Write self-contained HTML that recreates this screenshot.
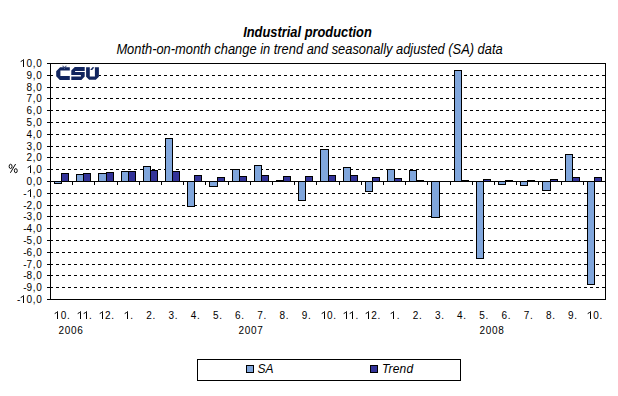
<!DOCTYPE html>
<html><head><meta charset="utf-8"><style>
html,body{margin:0;padding:0;background:#fff;}
body{width:618px;height:396px;overflow:hidden;}
svg{display:block;}
text{font-family:"Liberation Sans",sans-serif;}
</style></head><body>
<svg width="618" height="396" viewBox="0 0 618 396">
<rect x="0" y="0" width="618" height="396" fill="#fff"/>
<text transform="translate(307.5,37) scale(0.92,1)" x="0" y="0" text-anchor="middle" font-size="14" font-weight="bold" font-style="italic">Industrial production</text>
<text transform="translate(309.5,54) scale(0.92,1)" x="0" y="0" text-anchor="middle" font-size="14" font-style="italic">Month-on-month change in trend and seasonally adjusted (SA) data</text>
<g shape-rendering="crispEdges" stroke-width="1">
<line x1="50" y1="287.5" x2="605" y2="287.5" stroke="#000" stroke-dasharray="3 3"/>
<line x1="50" y1="275.5" x2="605" y2="275.5" stroke="#000" stroke-dasharray="3 3"/>
<line x1="50" y1="264.5" x2="605" y2="264.5" stroke="#000" stroke-dasharray="3 3"/>
<line x1="50" y1="252.5" x2="605" y2="252.5" stroke="#000" stroke-dasharray="3 3"/>
<line x1="50" y1="240.5" x2="605" y2="240.5" stroke="#000" stroke-dasharray="3 3"/>
<line x1="50" y1="228.5" x2="605" y2="228.5" stroke="#000" stroke-dasharray="3 3"/>
<line x1="50" y1="216.5" x2="605" y2="216.5" stroke="#000" stroke-dasharray="3 3"/>
<line x1="50" y1="205.5" x2="605" y2="205.5" stroke="#000" stroke-dasharray="3 3"/>
<line x1="50" y1="193.5" x2="605" y2="193.5" stroke="#000" stroke-dasharray="3 3"/>
<line x1="50" y1="169.5" x2="605" y2="169.5" stroke="#000" stroke-dasharray="3 3"/>
<line x1="50" y1="157.5" x2="605" y2="157.5" stroke="#000" stroke-dasharray="3 3"/>
<line x1="50" y1="146.5" x2="605" y2="146.5" stroke="#000" stroke-dasharray="3 3"/>
<line x1="50" y1="134.5" x2="605" y2="134.5" stroke="#000" stroke-dasharray="3 3"/>
<line x1="50" y1="122.5" x2="605" y2="122.5" stroke="#000" stroke-dasharray="3 3"/>
<line x1="50" y1="110.5" x2="605" y2="110.5" stroke="#000" stroke-dasharray="3 3"/>
<line x1="50" y1="98.5" x2="605" y2="98.5" stroke="#000" stroke-dasharray="3 3"/>
<line x1="50" y1="87.5" x2="605" y2="87.5" stroke="#000" stroke-dasharray="3 3"/>
<line x1="50" y1="75.5" x2="605" y2="75.5" stroke="#000" stroke-dasharray="3 3"/>
<rect x="54.5" y="181.5" width="7" height="2" fill="#80a6dc" stroke="#000"/>
<rect x="61.5" y="173.5" width="7" height="8" fill="#333399" stroke="#000"/>
<rect x="76.5" y="174.5" width="7" height="7" fill="#80a6dc" stroke="#000"/>
<rect x="83.5" y="173.5" width="7" height="8" fill="#333399" stroke="#000"/>
<rect x="98.5" y="173.5" width="8" height="8" fill="#80a6dc" stroke="#000"/>
<rect x="106.5" y="172.5" width="7" height="9" fill="#333399" stroke="#000"/>
<rect x="121.5" y="171.5" width="7" height="10" fill="#80a6dc" stroke="#000"/>
<rect x="128.5" y="171.5" width="7" height="10" fill="#333399" stroke="#000"/>
<rect x="143.5" y="166.5" width="7" height="15" fill="#80a6dc" stroke="#000"/>
<rect x="150.5" y="170.5" width="7" height="11" fill="#333399" stroke="#000"/>
<rect x="165.5" y="138.5" width="7" height="43" fill="#80a6dc" stroke="#000"/>
<rect x="172.5" y="171.5" width="7" height="10" fill="#333399" stroke="#000"/>
<rect x="187.5" y="181.5" width="7" height="25" fill="#80a6dc" stroke="#000"/>
<rect x="194.5" y="175.5" width="7" height="6" fill="#333399" stroke="#000"/>
<rect x="209.5" y="181.5" width="8" height="5" fill="#80a6dc" stroke="#000"/>
<rect x="217.5" y="177.5" width="7" height="4" fill="#333399" stroke="#000"/>
<rect x="232.5" y="169.5" width="7" height="12" fill="#80a6dc" stroke="#000"/>
<rect x="239.5" y="176.5" width="7" height="5" fill="#333399" stroke="#000"/>
<rect x="254.5" y="165.5" width="7" height="16" fill="#80a6dc" stroke="#000"/>
<rect x="261.5" y="175.5" width="7" height="6" fill="#333399" stroke="#000"/>
<rect x="276.5" y="180.5" width="7" height="1" fill="#80a6dc" stroke="#000"/>
<rect x="283.5" y="176.5" width="7" height="5" fill="#333399" stroke="#000"/>
<rect x="298.5" y="181.5" width="7" height="19" fill="#80a6dc" stroke="#000"/>
<rect x="305.5" y="176.5" width="7" height="5" fill="#333399" stroke="#000"/>
<rect x="320.5" y="149.5" width="8" height="32" fill="#80a6dc" stroke="#000"/>
<rect x="328.5" y="175.5" width="7" height="6" fill="#333399" stroke="#000"/>
<rect x="343.5" y="167.5" width="7" height="14" fill="#80a6dc" stroke="#000"/>
<rect x="350.5" y="175.5" width="7" height="6" fill="#333399" stroke="#000"/>
<rect x="365.5" y="181.5" width="7" height="10" fill="#80a6dc" stroke="#000"/>
<rect x="372.5" y="177.5" width="7" height="4" fill="#333399" stroke="#000"/>
<rect x="387.5" y="169.5" width="7" height="12" fill="#80a6dc" stroke="#000"/>
<rect x="394.5" y="178.5" width="7" height="3" fill="#333399" stroke="#000"/>
<rect x="409.5" y="170.5" width="7" height="11" fill="#80a6dc" stroke="#000"/>
<rect x="416.5" y="180.5" width="7" height="1" fill="#333399" stroke="#000"/>
<rect x="431.5" y="181.5" width="8" height="36" fill="#80a6dc" stroke="#000"/>
<rect x="454.5" y="70.5" width="7" height="111" fill="#80a6dc" stroke="#000"/>
<rect x="461.5" y="180.5" width="7" height="1" fill="#333399" stroke="#000"/>
<rect x="476.5" y="181.5" width="7" height="77" fill="#80a6dc" stroke="#000"/>
<rect x="483.5" y="179.5" width="7" height="2" fill="#333399" stroke="#000"/>
<rect x="498.5" y="181.5" width="7" height="3" fill="#80a6dc" stroke="#000"/>
<rect x="505.5" y="180.5" width="7" height="1" fill="#333399" stroke="#000"/>
<rect x="520.5" y="181.5" width="7" height="4" fill="#80a6dc" stroke="#000"/>
<rect x="527.5" y="180.5" width="7" height="1" fill="#333399" stroke="#000"/>
<rect x="542.5" y="181.5" width="8" height="9" fill="#80a6dc" stroke="#000"/>
<rect x="550.5" y="179.5" width="7" height="2" fill="#333399" stroke="#000"/>
<rect x="565.5" y="154.5" width="7" height="27" fill="#80a6dc" stroke="#000"/>
<rect x="572.5" y="177.5" width="7" height="4" fill="#333399" stroke="#000"/>
<rect x="587.5" y="181.5" width="7" height="103" fill="#80a6dc" stroke="#000"/>
<rect x="594.5" y="177.5" width="7" height="4" fill="#333399" stroke="#000"/>
<line x1="47" y1="63.5" x2="606" y2="63.5" stroke="#000"/>
<line x1="47" y1="299.5" x2="606" y2="299.5" stroke="#000"/>
<line x1="50.5" y1="63" x2="50.5" y2="300" stroke="#000"/>
<line x1="605.5" y1="63" x2="605.5" y2="300" stroke="#000"/>
<line x1="50" y1="181.5" x2="606" y2="181.5" stroke="#000"/>
<line x1="47" y1="299.5" x2="50" y2="299.5" stroke="#000"/>
<line x1="47" y1="287.5" x2="50" y2="287.5" stroke="#000"/>
<line x1="47" y1="275.5" x2="50" y2="275.5" stroke="#000"/>
<line x1="47" y1="264.5" x2="50" y2="264.5" stroke="#000"/>
<line x1="47" y1="252.5" x2="50" y2="252.5" stroke="#000"/>
<line x1="47" y1="240.5" x2="50" y2="240.5" stroke="#000"/>
<line x1="47" y1="228.5" x2="50" y2="228.5" stroke="#000"/>
<line x1="47" y1="216.5" x2="50" y2="216.5" stroke="#000"/>
<line x1="47" y1="205.5" x2="50" y2="205.5" stroke="#000"/>
<line x1="47" y1="193.5" x2="50" y2="193.5" stroke="#000"/>
<line x1="47" y1="181.5" x2="50" y2="181.5" stroke="#000"/>
<line x1="47" y1="169.5" x2="50" y2="169.5" stroke="#000"/>
<line x1="47" y1="157.5" x2="50" y2="157.5" stroke="#000"/>
<line x1="47" y1="146.5" x2="50" y2="146.5" stroke="#000"/>
<line x1="47" y1="134.5" x2="50" y2="134.5" stroke="#000"/>
<line x1="47" y1="122.5" x2="50" y2="122.5" stroke="#000"/>
<line x1="47" y1="110.5" x2="50" y2="110.5" stroke="#000"/>
<line x1="47" y1="98.5" x2="50" y2="98.5" stroke="#000"/>
<line x1="47" y1="87.5" x2="50" y2="87.5" stroke="#000"/>
<line x1="47" y1="75.5" x2="50" y2="75.5" stroke="#000"/>
<line x1="47" y1="63.5" x2="50" y2="63.5" stroke="#000"/>
<line x1="72.5" y1="181" x2="72.5" y2="185" stroke="#000"/>
<line x1="94.5" y1="181" x2="94.5" y2="185" stroke="#000"/>
<line x1="117.5" y1="181" x2="117.5" y2="185" stroke="#000"/>
<line x1="139.5" y1="181" x2="139.5" y2="185" stroke="#000"/>
<line x1="161.5" y1="181" x2="161.5" y2="185" stroke="#000"/>
<line x1="183.5" y1="181" x2="183.5" y2="185" stroke="#000"/>
<line x1="205.5" y1="181" x2="205.5" y2="185" stroke="#000"/>
<line x1="228.5" y1="181" x2="228.5" y2="185" stroke="#000"/>
<line x1="250.5" y1="181" x2="250.5" y2="185" stroke="#000"/>
<line x1="272.5" y1="181" x2="272.5" y2="185" stroke="#000"/>
<line x1="294.5" y1="181" x2="294.5" y2="185" stroke="#000"/>
<line x1="316.5" y1="181" x2="316.5" y2="185" stroke="#000"/>
<line x1="339.5" y1="181" x2="339.5" y2="185" stroke="#000"/>
<line x1="361.5" y1="181" x2="361.5" y2="185" stroke="#000"/>
<line x1="383.5" y1="181" x2="383.5" y2="185" stroke="#000"/>
<line x1="405.5" y1="181" x2="405.5" y2="185" stroke="#000"/>
<line x1="427.5" y1="181" x2="427.5" y2="185" stroke="#000"/>
<line x1="450.5" y1="181" x2="450.5" y2="185" stroke="#000"/>
<line x1="472.5" y1="181" x2="472.5" y2="185" stroke="#000"/>
<line x1="494.5" y1="181" x2="494.5" y2="185" stroke="#000"/>
<line x1="516.5" y1="181" x2="516.5" y2="185" stroke="#000"/>
<line x1="538.5" y1="181" x2="538.5" y2="185" stroke="#000"/>
<line x1="561.5" y1="181" x2="561.5" y2="185" stroke="#000"/>
<line x1="583.5" y1="181" x2="583.5" y2="185" stroke="#000"/>
</g>
<rect x="53" y="64" width="46" height="22" fill="#fff"/>
<g fill="#11255f">
<path d="M56.2,71.2 L60.1,67.3 L69.8,67.3 L69.8,70.6 L60.4,70.6 L60.4,75.9 L69.8,75.9 L69.8,79.9 L59.8,79.9 L56.2,76.3 Z"/>
<path d="M61.9,65.8 L63.4,65.8 L64.5,67 L65.6,65.8 L67.1,65.8 L65.3,67.8 L63.7,67.8 Z" fill-opacity="0.7"/>
<path d="M63.9,67.9 L65.1,67.9 L64.5,69.1 Z" fill="#fff" fill-opacity="0.45"/>
<path d="M71.3,70.6 L74.8,67.1 L84.7,67.1 L84.7,70.9 L75.1,70.9 L75.1,72.1 L84.7,72.1 L84.7,76.5 L81.4,79.9 L71.3,79.9 L71.3,76.5 L80.9,76.5 L80.9,75.1 L71.3,75.1 Z"/>
<path d="M86.1,67.2 L89.8,67.2 L89.8,76.4 L94.9,76.4 L94.9,67.2 L98.9,67.2 L98.9,76.8 L95.8,79.8 L89.1,79.8 L86.1,76.8 Z"/>
<path d="M90.2,70 L92.4,67.2 L94.4,67.2 L92.2,70 Z"/>
</g>
<g font-size="10" fill="#000" letter-spacing="0.7">
<path d="M23,303 V295 H24 V303 Z M23.60,295.00 L20.70,297.30 L20.70,298.30 L23.60,296.00 Z"/>
<text x="16.91 26.50 32.76 36.24" y="303">-0,0</text>
<text x="23.17 26.50 32.76 36.24" y="291">-9,0</text>
<text x="23.17 26.50 32.76 36.24" y="279">-8,0</text>
<text x="23.17 26.50 32.76 36.24" y="268">-7,0</text>
<text x="23.17 26.50 32.76 36.24" y="256">-6,0</text>
<text x="23.17 26.50 32.76 36.24" y="244">-5,0</text>
<text x="23.17 26.50 32.76 36.24" y="232">-4,0</text>
<text x="23.17 26.50 32.76 36.24" y="220">-3,0</text>
<text x="23.17 26.50 32.76 36.24" y="209">-2,0</text>
<path d="M30,197 V189 H31 V197 Z M30.60,189.00 L27.70,191.30 L27.70,192.30 L30.60,190.00 Z"/>
<text x="23.17 32.76 36.24" y="197">-,0</text>
<text x="26.50 32.76 36.24" y="185">0,0</text>
<path d="M30,173 V165 H31 V173 Z M30.60,165.00 L27.70,167.30 L27.70,168.30 L30.60,166.00 Z"/>
<text x="32.76 36.24" y="173">,0</text>
<text x="26.50 32.76 36.24" y="161">2,0</text>
<text x="26.50 32.76 36.24" y="150">3,0</text>
<text x="26.50 32.76 36.24" y="138">4,0</text>
<text x="26.50 32.76 36.24" y="126">5,0</text>
<text x="26.50 32.76 36.24" y="114">6,0</text>
<text x="26.50 32.76 36.24" y="102">7,0</text>
<text x="26.50 32.76 36.24" y="91">8,0</text>
<text x="26.50 32.76 36.24" y="79">9,0</text>
<path d="M23,67 V59 H24 V67 Z M23.60,59.00 L20.70,61.30 L20.70,62.30 L23.60,60.00 Z"/>
<text x="26.50 32.76 36.24" y="67">0,0</text>
<g fill="none" stroke="#000" stroke-width="0.95"><ellipse cx="10.6" cy="166.4" rx="1.45" ry="2.15"/><ellipse cx="15.8" cy="170.7" rx="1.45" ry="2.05"/><line x1="10.4" y1="172.8" x2="15.6" y2="164"/></g>
<path d="M57,319 V311 H58 V319 Z M57.60,311.00 L54.70,313.30 L54.70,314.30 L57.60,312.00 Z"/>
<text x="60.66 66.92" y="319">0.</text>
<path d="M80,319 V311 H81 V319 Z M80.60,311.00 L77.70,313.30 L77.70,314.30 L80.60,312.00 Z"/>
<path d="M86,319 V311 H87 V319 Z M86.60,311.00 L83.70,313.30 L83.70,314.30 L86.60,312.00 Z"/>
<text x="89.02" y="319">.</text>
<path d="M102,319 V311 H103 V319 Z M102.60,311.00 L99.70,313.30 L99.70,314.30 L102.60,312.00 Z"/>
<text x="105.06 111.32" y="319">2.</text>
<path d="M127,319 V311 H128 V319 Z M127.60,311.00 L124.70,313.30 L124.70,314.30 L127.60,312.00 Z"/>
<text x="130.29" y="319">.</text>
<text x="146.23 152.49" y="319">2.</text>
<text x="168.43 174.69" y="319">3.</text>
<text x="190.63 196.89" y="319">4.</text>
<text x="212.93 219.19" y="319">5.</text>
<text x="235.03 241.29" y="319">6.</text>
<text x="257.23 263.49" y="319">7.</text>
<text x="279.53 285.79" y="319">8.</text>
<text x="301.63 307.89" y="319">9.</text>
<path d="M324,319 V311 H325 V319 Z M324.60,311.00 L321.70,313.30 L321.70,314.30 L324.60,312.00 Z"/>
<text x="327.06 333.32" y="319">0.</text>
<path d="M346,319 V311 H347 V319 Z M346.60,311.00 L343.70,313.30 L343.70,314.30 L346.60,312.00 Z"/>
<path d="M352,319 V311 H353 V319 Z M352.60,311.00 L349.70,313.30 L349.70,314.30 L352.60,312.00 Z"/>
<text x="355.42" y="319">.</text>
<path d="M368,319 V311 H369 V319 Z M368.60,311.00 L365.70,313.30 L365.70,314.30 L368.60,312.00 Z"/>
<text x="371.36 377.62" y="319">2.</text>
<path d="M393,319 V311 H394 V319 Z M393.60,311.00 L390.70,313.30 L390.70,314.30 L393.60,312.00 Z"/>
<text x="396.69" y="319">.</text>
<text x="412.73 418.99" y="319">2.</text>
<text x="434.93 441.19" y="319">3.</text>
<text x="457.03 463.29" y="319">4.</text>
<text x="479.23 485.49" y="319">5.</text>
<text x="501.43 507.69" y="319">6.</text>
<text x="523.63 529.89" y="319">7.</text>
<text x="545.93 552.19" y="319">8.</text>
<text x="568.03 574.29" y="319">9.</text>
<path d="M590,319 V311 H591 V319 Z M590.60,311.00 L587.70,313.30 L587.70,314.30 L590.60,312.00 Z"/>
<text x="593.36 599.62" y="319">0.</text>
<text x="58.48 64.74 71.00 77.26" y="333.5">2006</text>
<text x="238.48 244.74 251.00 257.26" y="333.5">2007</text>
<text x="479.48 485.74 492.00 498.26" y="333.5">2008</text>
</g>
<g shape-rendering="crispEdges">
<rect x="197.5" y="359.5" width="263" height="21" fill="#fff" stroke="#000"/>
<rect x="246.5" y="365.5" width="7" height="7" fill="#80a6dc" stroke="#000"/>
<rect x="370.5" y="365.5" width="7" height="7" fill="#333399" stroke="#000"/>
</g>
<text x="257.5" y="373" font-size="12" font-style="italic">SA</text>
<text x="382" y="373" font-size="12" font-style="italic" letter-spacing="0.15">Trend</text>
</svg>
</body></html>
